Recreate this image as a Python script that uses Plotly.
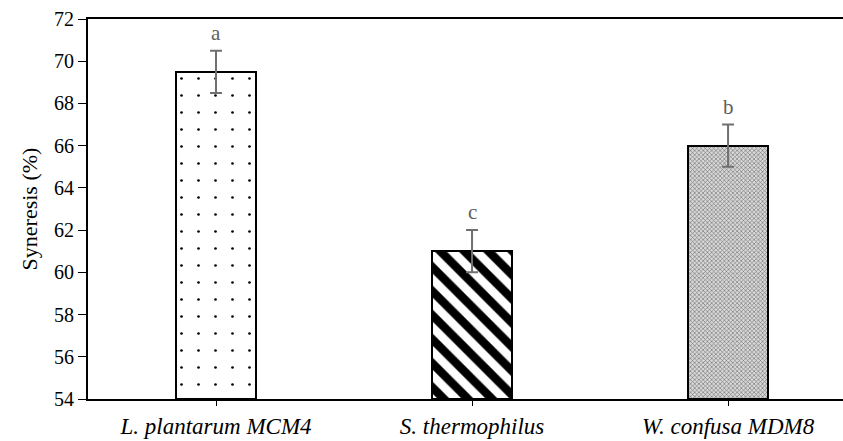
import plotly.graph_objects as go

categories = ["L. plantarum MCM4", "S. thermophilus", "W. confusa MDM8"]
syneresis = [69.5, 61.0, 66.0]
errors = [1.0, 1.0, 1.0]
letters = ["a", "c", "b"]
y_ticks = [54, 56, 58, 60, 62, 64, 66, 68, 70, 72]

SERIF = "Palatino Linotype, Book Antiqua, Liberation Serif, serif"

fig = go.Figure()

patterns = [
    dict(shape=".", bgcolor="white", fgcolor="black", fgopacity=1, size=17, solidity=0.02),
    dict(shape="\\", bgcolor="white", fgcolor="black", fgopacity=1, size=17, solidity=0.5),
    dict(shape="x", bgcolor="#d8d8d8", fgcolor="#6a6a6a", fgopacity=1, size=3, solidity=0.35),
]

for i, cat in enumerate(categories):
    fig.add_trace(go.Bar(
        x=[i], y=[syneresis[i] - 54], base=54,
        width=0.3125,
        marker=dict(color="white", line=dict(color="black", width=2), pattern=patterns[i]),
        error_y=dict(type="data", array=[errors[i]], color="#707070", thickness=2, width=6),
        showlegend=False, hoverinfo="skip",
    ))
    fig.add_annotation(x=i, y=syneresis[i] + errors[i], text=letters[i], showarrow=False,
                       yshift=18, font=dict(family=SERIF, size=21, color="#606060"))

fig.update_layout(
    width=843, height=441,
    margin=dict(l=88, r=0, t=19, b=42),
    plot_bgcolor="white", paper_bgcolor="white",
    bargap=0,
    xaxis=dict(
        range=[-0.5, 2.449], tickmode="array", tickvals=[0, 1, 2],
        ticktext=["<i>" + c + "</i>" for c in categories],
        showline=True, linecolor="black", linewidth=2, mirror=True,
        ticks="outside", ticklen=5, tickcolor="black", tickwidth=1,
        tickfont=dict(family=SERIF, size=23, color="black"),
        showgrid=False, zeroline=False, fixedrange=True, automargin=False,
    ),
    yaxis=dict(
        range=[54, 72], tickvals=y_ticks,
        showline=True, linecolor="black", linewidth=2, mirror=False,
        ticks="outside", ticklen=8, tickcolor="black", tickwidth=1,
        tickfont=dict(family=SERIF, size=20, color="black"),
        showgrid=False, zeroline=False, automargin=False, fixedrange=True,
        title=dict(text="Syneresis (%)", font=dict(family=SERIF, size=22, color="black"), standoff=10),
    ),
)

fig.write_html("out.html", config={"displayModeBar": False},
               post_script="document.body.style.margin='0';")
